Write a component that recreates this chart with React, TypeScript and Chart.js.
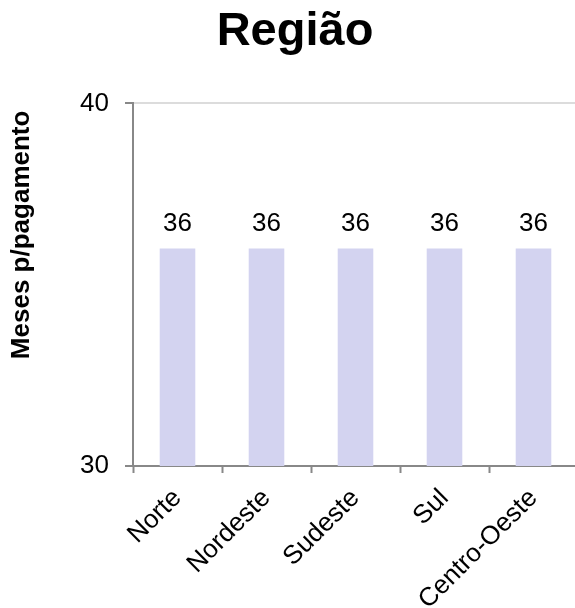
import React, { useEffect, useRef } from "react";
import { Chart, registerables } from "chart.js";

Chart.register(...registerables);

const categories = ["Norte", "Nordeste", "Sudeste", "Sul", "Centro-Oeste"];
const values = [36, 36, 36, 36, 36];
const yMin = 30;
const yMax = 40;
const yStep = 10;
const titleText = "Região";
const yTitleText = "Meses p/pagamento";

const FONT = "'Liberation Sans', Arial, Helvetica, sans-serif";

const valueLabels = {
  id: "valueLabels",
  afterDatasetsDraw(chart: any) {
    const ctx = chart.ctx;
    ctx.save();
    ctx.font = `26px ${FONT}`;
    ctx.fillStyle = "#000";
    ctx.textAlign = "center";
    ctx.textBaseline = "alphabetic";
    chart.data.datasets.forEach((ds: any, di: number) => {
      const meta = chart.getDatasetMeta(di);
      meta.data.forEach((bar: any, i: number) => {
        ctx.fillText(String(ds.data[i]), bar.x, bar.y - 17);
      });
    });
    ctx.restore();
  },
};

export default function App() {
  const ref = useRef<HTMLCanvasElement>(null);
  useEffect(() => {
    if (!ref.current) return;
    const chart = new Chart(ref.current, {
      type: "bar",
      data: {
        labels: categories,
        datasets: [
          {
            data: values,
            backgroundColor: "#d3d3f0",
            barPercentage: 0.4,
            categoryPercentage: 1,
          },
        ],
      },
      options: {
        responsive: false,
        animation: false,
        devicePixelRatio: 1,
        layout: { padding: { left: 12, right: 13, top: 0, bottom: 0 } },
        plugins: {
          legend: { display: false },
          tooltip: { enabled: false },
          title: {
            display: true,
            text: titleText,
            color: "#000",
            font: { family: FONT, size: 47, weight: "bold" },
            padding: { top: 4, bottom: 43 },
          },
        },
        scales: {
          x: {
            afterFit: (s: any) => {
              s.height = 142;
            },
            grid: {
              display: true,
              drawOnChartArea: false,
              drawTicks: true,
              tickLength: 7,
              tickWidth: 2,
              tickColor: "#888",
              offset: true,
            },
            border: { display: true, color: "#888", width: 2 },
            ticks: {
              color: "#000",
              font: { family: FONT, size: 26 },
              minRotation: 45,
              maxRotation: 45,
              autoSkip: false,
              padding: 10,
            },
          },
          y: {
            min: yMin,
            max: yMax,
            afterFit: (s: any) => {
              s.width = 121;
            },
            grid: {
              display: true,
              color: "#dcdcdc",
              lineWidth: 2,
              drawTicks: true,
              tickLength: 8,
              tickWidth: 2,
              tickColor: "#888",
            },
            border: { display: true, color: "#888", width: 2 },
            ticks: {
              stepSize: yStep,
              color: "#000",
              font: { family: FONT, size: 26 },
              padding: 16,
            },
            title: {
              display: true,
              text: yTitleText + " ",
              align: "end",
              color: "#000",
              font: { family: FONT, size: 26, weight: "bold" },
              padding: { top: -6, bottom: 0 },
            },
          },
        },
      },
      plugins: [valueLabels],
    });
    return () => chart.destroy();
  }, []);
  return (
    <div
      style={{
        position: "absolute",
        left: 0,
        top: 0,
        width: 575,
        height: 608,
        overflow: "hidden",
        background: "#fff",
      }}
    >
      <canvas ref={ref} width={591} height={608} />
    </div>
  );
}
